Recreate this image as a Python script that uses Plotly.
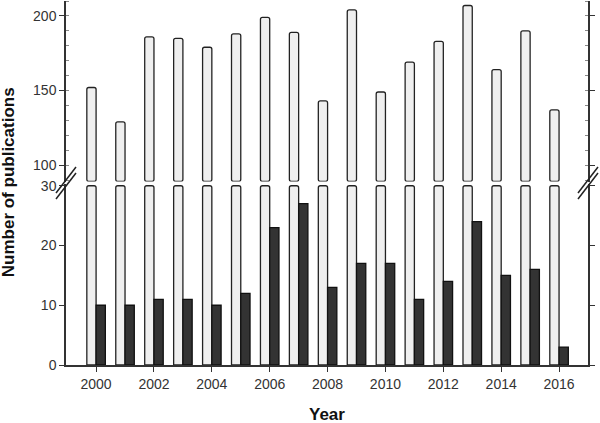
import plotly.graph_objects as go

years = list(range(2000, 2017))
total_pubs = [152, 129, 186, 185, 179, 188, 199, 189, 143, 204, 149, 169, 183, 207, 164, 190, 137]
subset_pubs = [10, 10, 11, 11, 10, 12, 23, 27, 13, 17, 17, 11, 14, 24, 15, 16, 3]

upper_range = [89, 210]
lower_range = [0, 30.3]

FONT = 'Arial, "Liberation Sans", sans-serif'
LINE = '#333333'
light_fill = '#efefef'
dark_fill = '#333333'
bar_w = 0.32

fig = go.Figure()

# lower segment: light bars cut at the break, dark bars full
fig.add_trace(go.Bar(
    x=years, y=[min(v, 30) for v in total_pubs], xaxis='x', yaxis='y',
    width=bar_w, offset=-bar_w,
    marker=dict(color=light_fill, line=dict(color='#222222', width=1.3), cornerradius=2),
    showlegend=False, hoverinfo='skip'))
fig.add_trace(go.Bar(
    x=years, y=subset_pubs, xaxis='x', yaxis='y',
    width=bar_w, offset=0,
    marker=dict(color=dark_fill, line=dict(color='#111111', width=1.3)),
    showlegend=False))
# upper segment: light bars from the break up to their value
fig.add_trace(go.Bar(
    x=years, y=[v - upper_range[0] for v in total_pubs], base=upper_range[0],
    xaxis='x', yaxis='y2', width=bar_w, offset=-bar_w,
    marker=dict(color=light_fill, line=dict(color='#222222', width=1.3), cornerradius=2),
    showlegend=False, customdata=total_pubs, hovertemplate='%{x}: %{customdata}<extra></extra>'))

tickfont = dict(family=FONT, size=14, color='#333333')

fig.update_layout(
    width=600, height=423,
    margin=dict(l=66, r=12, t=1, b=58),
    plot_bgcolor='white', paper_bgcolor='white',
    barmode='overlay',
    xaxis=dict(range=[1998.96, 2017.0], tickvals=years[::2], ticks='outside', ticklen=5,
               tickcolor=LINE, showline=True, linecolor=LINE, linewidth=1.5,
               showgrid=False, zeroline=False, tickfont=tickfont, anchor='y',
               automargin=False),
    xaxis2=dict(range=[1998.96, 2017.0], overlaying='x', anchor='y2', side='top',
                showline=True, linecolor=LINE, linewidth=1.5, ticks='',
                showticklabels=False, showgrid=False, zeroline=False, automargin=False),
    yaxis=dict(domain=[0, 0.4973], range=lower_range, tickvals=[0, 10, 20, 30],
               ticks='outside', ticklen=5, tickcolor=LINE, showline=True, mirror='ticks',
               linecolor=LINE, linewidth=1.5, showgrid=False, zeroline=False,
               tickfont=tickfont, anchor='x', automargin=False),
    yaxis2=dict(domain=[0.5041, 1.0], range=upper_range, tickvals=[100, 150, 200],
                ticks='outside', ticklen=5, tickcolor=LINE, showline=True, mirror='ticks',
                linecolor=LINE, linewidth=1.5, showgrid=False, zeroline=False,
                minor=dict(dtick=10, tick0=100, ticks='inside', ticklen=3, tickcolor='#888888'),
                tickfont=tickfont, anchor='x', automargin=False),
    annotations=[
        dict(text='<b>Number of publications</b>', textangle=-90, xref='paper', yref='paper',
             x=-0.110, y=0.501, xanchor='center', yanchor='middle', showarrow=False,
             font=dict(family=FONT, size=17, color='#111111')),
        dict(text='<b>Year</b>', xref='paper', yref='paper', x=0.5, y=-0.135,
             xanchor='center', yanchor='middle', showarrow=False,
             font=dict(family=FONT, size=17, color='#111111')),
    ],
)

# axis break marks "//" on both sides
dx = 10 / 522
dy = 13 / 364
shapes = []
for xc in (0, 1):
    for yc in (180, 186):
        yp = (365 - yc) / 364
        shapes.append(dict(type='line', xref='paper', yref='paper',
                           x0=xc - dx, y0=yp - dy, x1=xc + dx, y1=yp + dy,
                           line=dict(color='#222222', width=1.5)))
fig.update_layout(shapes=shapes)

fig.write_html("out.html", config={'displayModeBar': False},
               post_script="document.body.style.margin='0';")
